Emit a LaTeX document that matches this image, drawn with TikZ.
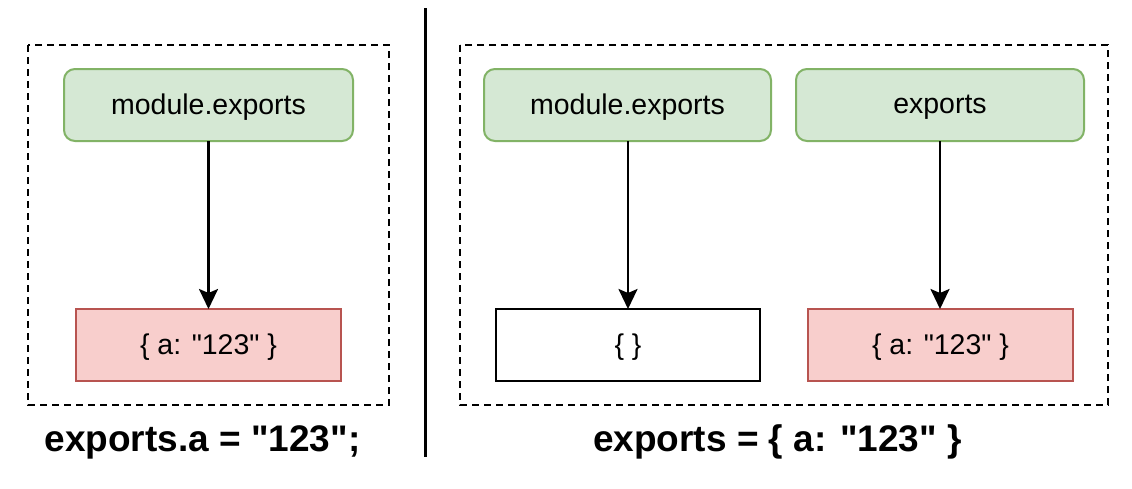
\documentclass[tikz,border=0pt]{standalone}
\usepackage{fontspec}
\setmainfont{Liberation Sans}[Ligatures=TeXOff]
\usetikzlibrary{arrows.meta}
\definecolor{gfill}{HTML}{D5E8D4}
\definecolor{gline}{HTML}{82B366}
\definecolor{rfill}{HTML}{F8CECC}
\definecolor{rline}{HTML}{B85450}
\tikzset{
  frame/.style={draw=black, line width=2pt, dash pattern=on 7pt off 5pt},
  gbox/.style={draw=gline, fill=gfill, line width=2pt, rounded corners=11pt},
  rbox/.style={draw=rline, fill=rfill, line width=2pt},
  wbox/.style={draw=black, fill=white, line width=2pt},
  boxtext/.style={font=\fontsize{28.5}{34}\selectfont},
  conn/.style={draw=black, line width=2.5pt, -{Stealth[length=20pt,width=19pt,inset=4pt]}},
  biglabel/.style={font=\fontsize{37}{44}\selectfont\bfseries}
}
\begin{document}
\begin{tikzpicture}[x=1pt,y=-1pt]
\useasboundingbox[fill=white] (0,0) rectangle (1132,488);
% left panel
\draw[frame] (28,45) rectangle (389,405);
\path[gbox] (64,69) rectangle (353,141);
\node[boxtext] (lmt) at (208.5,107) {module.exports};
\path[rbox] (76,309) rectangle (341,381);
\node[boxtext] (lrt) at (208.5,347) {\{ a: "123" \}};
\coordinate (lmb) at (208.5,141);
\coordinate (lrb) at (208.5,309);
\draw[conn] (lmb) -- (lrb);
\node[biglabel] (ll) at (202.5,442) {exports.a = "123";};
% divider
\coordinate (d1) at (425.5,8);
\coordinate (d2) at (425.5,457);
\draw[line width=3.5pt] (d1) -- (d2);
% right panel
\draw[frame] (460,45) rectangle (1108,405);
\path[gbox] (484,69) rectangle (771,141);
\node[boxtext] (rmt) at (627.5,107) {module.exports};
\path[gbox] (796,69) rectangle (1084,141);
\node[boxtext] (ret) at (940,107) {exports};
\path[wbox] (496,309) rectangle (760,381);
\node[boxtext] (rwt) at (628,347) {\{ \}};
\path[rbox] (808,309) rectangle (1073,381);
\node[boxtext] (rrt) at (940.5,347) {\{ a: "123" \}};
\coordinate (rmb) at (628,141);
\coordinate (rwb) at (628,309);
\coordinate (reb) at (940,141);
\coordinate (rrb) at (940,309);
\draw[conn] (rmb) -- (rwb);
\draw[conn] (reb) -- (rrb);
\node[biglabel] (rl) at (777.5,442) {exports = \{ a: "123" \}};
\end{tikzpicture}
\end{document}
